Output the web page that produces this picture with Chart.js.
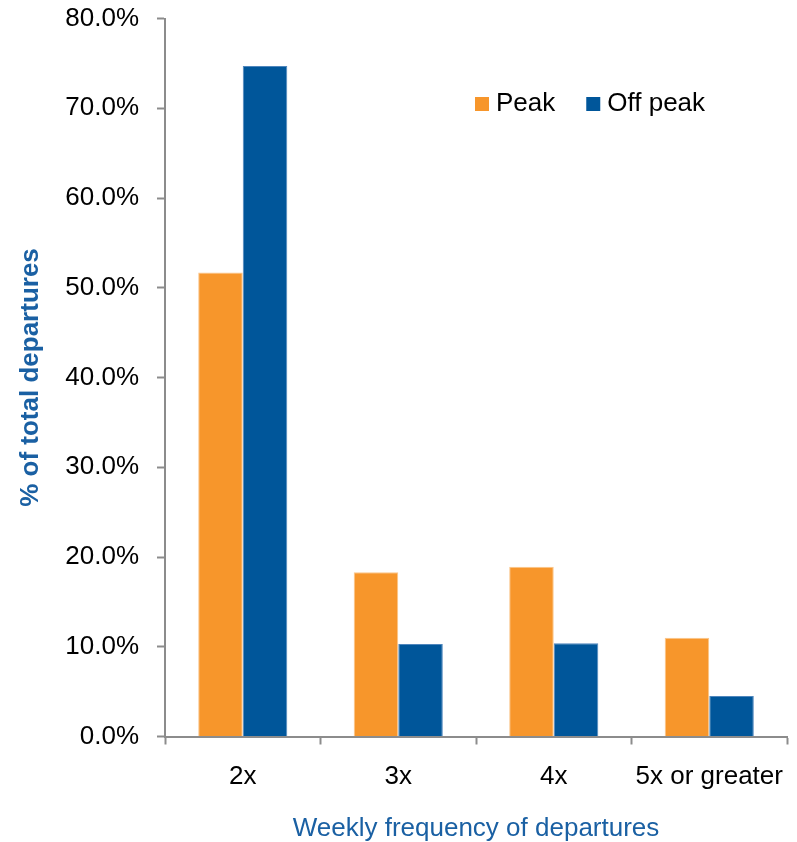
<!DOCTYPE html>
<html>
<head>
<meta charset="utf-8">
<script src="https://cdn.jsdelivr.net/npm/chart.js@4"></script>
<style>
  html, body { margin: 0; padding: 0; background: #ffffff; }
  #wrap { width: 797px; height: 842px; }
</style>
</head>
<body>
<div id="wrap"><canvas id="c" width="797" height="842"></canvas></div>
<script>
// Share of total departures by weekly frequency (percent)
const categories = ['2x', '3x', '4x', '5x or greater'];
const peak = [51.7, 18.3, 18.9, 11.0];
const offPeak = [74.7, 10.3, 10.4, 4.5];
const seriesNames = ['Peak', 'Off peak'];
const yTicks = [0, 10, 20, 30, 40, 50, 60, 70, 80];

const AXIS_GREY = '#8c8c8c';
const TITLE_BLUE = '#1a60a3';

Chart.defaults.font.family = '"Liberation Sans", Arial, Helvetica, sans-serif';
Chart.defaults.font.size = 26;
Chart.defaults.color = '#000000';

// Legend drawn inside the plot area, top right
const insideLegend = {
  id: 'insideLegend',
  afterDatasetsDraw(chart, args, opts) {
    const ctx = chart.ctx;
    const area = chart.chartArea;
    ctx.save();
    ctx.font = '26px "Liberation Sans", Arial, sans-serif';
    ctx.textBaseline = 'middle';
    ctx.textAlign = 'left';
    let x = area.left + opts.offsetX;
    const y = area.top + opts.offsetY;
    chart.data.datasets.forEach(ds => {
      ctx.fillStyle = ds.backgroundColor;
      ctx.fillRect(x, y - 7, 14, 14);
      ctx.fillStyle = '#000000';
      ctx.fillText(ds.label, x + 21, y);
      x += 21 + ctx.measureText(ds.label).width + 31;
    });
    ctx.restore();
  }
};

new Chart(document.getElementById('c'), {
  type: 'bar',
  data: {
    labels: categories,
    datasets: [
      {
        label: seriesNames[0],
        data: peak,
        backgroundColor: '#f7962b',
        borderColor: '#fbc68a',
        borderWidth: 1,
        barPercentage: 1,
        categoryPercentage: 0.573
      },
      {
        label: seriesNames[1],
        data: offPeak,
        backgroundColor: '#00569a',
        borderColor: '#4f86bd',
        borderWidth: 1,
        barPercentage: 1,
        categoryPercentage: 0.573
      }
    ]
  },
  options: {
    responsive: false,
    animation: false,
    layout: { autoPadding: false, padding: { top: 18.5, right: 10, bottom: 0, left: 0 } },
    plugins: {
      legend: { display: false },
      tooltip: { enabled: false },
      insideLegend: { offsetX: 310, offsetY: 85.5 }
    },
    scales: {
      x: {
        grid: {
          offset: true,
          drawOnChartArea: false,
          drawTicks: true,
          tickLength: 8,
          tickColor: AXIS_GREY,
          tickWidth: 2
        },
        border: { color: AXIS_GREY, width: 2 },
        ticks: { color: '#000000', font: { size: 26 }, padding: 17, maxRotation: 0, autoSkip: false },
        title: {
          display: true,
          text: 'Weekly frequency of departures',
          color: TITLE_BLUE,
          font: { size: 26 },
          padding: { top: 0, bottom: -2 }
        },
        afterFit(scale) {
          scale.height = 105.5;
          scale.paddingLeft = 0;
          scale.paddingRight = 0;
        }
      },
      y: {
        min: 0,
        max: 80,
        afterBuildTicks(scale) { scale.ticks = yTicks.map(v => ({ value: v })); },
        grid: {
          drawOnChartArea: false,
          drawTicks: true,
          tickLength: 8,
          tickColor: AXIS_GREY,
          tickWidth: 2
        },
        border: { color: AXIS_GREY, width: 2 },
        ticks: {
          color: '#000000',
          font: { size: 26 },
          padding: 18,
          callback: v => Number(v).toFixed(1) + '%'
        },
        title: {
          display: true,
          text: '% of total departures',
          color: TITLE_BLUE,
          font: { size: 26, weight: 'bold' },
          padding: { top: 15.4, bottom: 0 }
        },
        afterFit(scale) {
          scale.width = 165;
          scale.paddingTop = 0;
          scale.paddingBottom = 0;
        }
      }
    }
  },
  plugins: [insideLegend]
});
</script>
</body>
</html>
